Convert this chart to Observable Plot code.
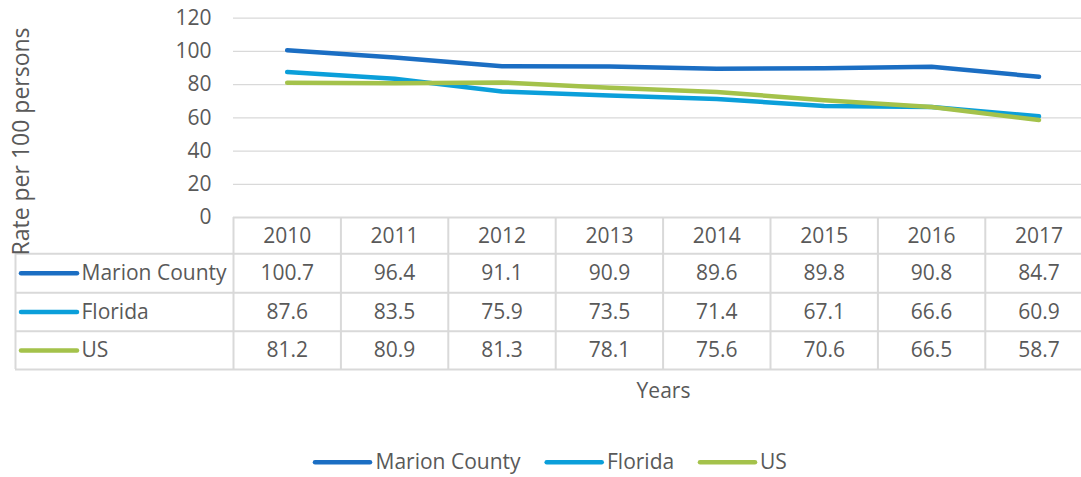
<!DOCTYPE html>
<html><head><meta charset="utf-8">
<script src="https://cdn.jsdelivr.net/npm/d3@7"></script>
<script src="https://cdn.jsdelivr.net/npm/@observablehq/plot@0.6"></script>
<style>body{margin:0;background:#fff;}</style>
</head><body><div id="chart"></div>
<script>
// ---- data ----
const years = [2010, 2011, 2012, 2013, 2014, 2015, 2016, 2017];
const seriesNames = ["Marion County", "Florida", "US"];
const marion = [100.7, 96.4, 91.1, 90.9, 89.6, 89.8, 90.8, 84.7];
const florida = [87.6, 83.5, 75.9, 73.5, 71.4, 67.1, 66.6, 60.9];
const us = [81.2, 80.9, 81.3, 78.1, 75.6, 70.6, 66.5, 58.7];
const yTicks = [0, 20, 40, 60, 80, 100, 120];
const colors = ["#1b6ec3", "#0b9fda", "#a4c24b"];
const yTitle = "Rate per 100 persons";
const xTitle = "Years";

// ---- layout (pixels) ----
const W = 1081, H = 477;
const xDomain = [2009.5, 2017.5], xRange = [233, 1092.2];
const yDomain = [0, 120], yRange = [217, 17.7];
const X = Plot.scale({x: {domain: xDomain, range: xRange}});
const Y = Plot.scale({y: {domain: yDomain, range: yRange}});
const px = v => X.invert(v), py = v => Y.invert(v);
const rowBounds = [217, 253.3, 292.3, 330.7, 369];
const headerCenter = 235.5;
const rowCenters = [272.8, 311.5, 350];
const legendY = 461.7;
const legendX1 = [315, 546.7, 700], legendX2 = [370, 601.7, 755], legendTx = [375, 606.5, 759.5];
const FONT = "Open Sans";
const FS = 21;
const GRID = "#d9d9d9";
const TXT = "#595959";

const seriesValues = [marion, florida, us];
const flat = seriesNames.flatMap((s, i) => years.map((yr, j) => ({series: s, year: yr, value: seriesValues[i][j], row: i})));

const hLines = rowBounds.map((b, i) => ({y: b, x1: i === 0 ? 233 : 15}));
const colBorders = years.map(y => y - 0.5).concat([years[years.length - 1] + 0.5]);

const chart = Plot.plot({
  width: W, height: H,
  marginLeft: 233, marginRight: 0, marginTop: 17.7, marginBottom: H - 217,
  x: {domain: xDomain, range: xRange, axis: null},
  y: {domain: yDomain, range: yRange, axis: null},
  color: {domain: seriesNames, range: colors},
  style: {fontFamily: FONT, fontSize: FS + "px", color: TXT, background: "#fff", overflow: "visible"},
  marks: [
    Plot.ruleY(yTicks.filter(t => t > 0), {stroke: GRID, strokeWidth: 1.3}),
    Plot.ruleY(hLines, {y: d => py(d.y), x1: d => px(d.x1), x2: px(1092.2), stroke: GRID, strokeWidth: 2}),
    Plot.ruleX(colBorders, {x: d => d, y1: py(217), y2: py(369), stroke: GRID, strokeWidth: 2}),
    Plot.ruleX([px(15)], {x: d => d, y1: py(253.3), y2: py(369), stroke: GRID, strokeWidth: 2}),
    Plot.axisY({ticks: yTicks, tickSize: 0, tickPadding: 22, fontSize: FS, fill: TXT, label: null}),
    Plot.line(flat, {x: "year", y: "value", z: "series", stroke: "series", strokeWidth: 4.5, strokeLinecap: "round", strokeLinejoin: "round"}),
    // table header
    Plot.text(years, {x: d => d, y: py(headerCenter), text: d => String(d), fontSize: FS, fill: TXT}),
    // table values
    Plot.text(flat, {x: "year", y: d => py(rowCenters[d.row]), text: d => d.value.toFixed(1), fontSize: FS, fill: TXT}),
    // table row labels & swatches
    Plot.ruleY(seriesNames, {y: (d, i) => py(rowCenters[i]), x1: px(21), x2: px(77), stroke: d => d, strokeWidth: 4.5, strokeLinecap: "round"}),
    Plot.text(seriesNames, {x: px(81), y: (d, i) => py(rowCenters[i]), text: d => d, textAnchor: "start", fontSize: FS, fill: TXT}),
    // axis titles
    Plot.text([xTitle], {x: px(663), y: py(391), text: d => d, fontSize: FS, fill: TXT}),
    Plot.text([yTitle], {x: px(21), y: py(141), text: d => d, rotate: -90, fontSize: 23, fill: TXT}),
    // bottom legend
    Plot.ruleY(seriesNames, {y: py(legendY), x1: (d, i) => px(legendX1[i]), x2: (d, i) => px(legendX2[i]), stroke: d => d, strokeWidth: 4.5, strokeLinecap: "round"}),
    Plot.text(seriesNames, {x: (d, i) => px(legendTx[i]), y: py(legendY), text: d => d, textAnchor: "start", fontSize: FS, fill: TXT})
  ]
});
document.getElementById("chart").appendChild(chart);
</script>
</body></html>
